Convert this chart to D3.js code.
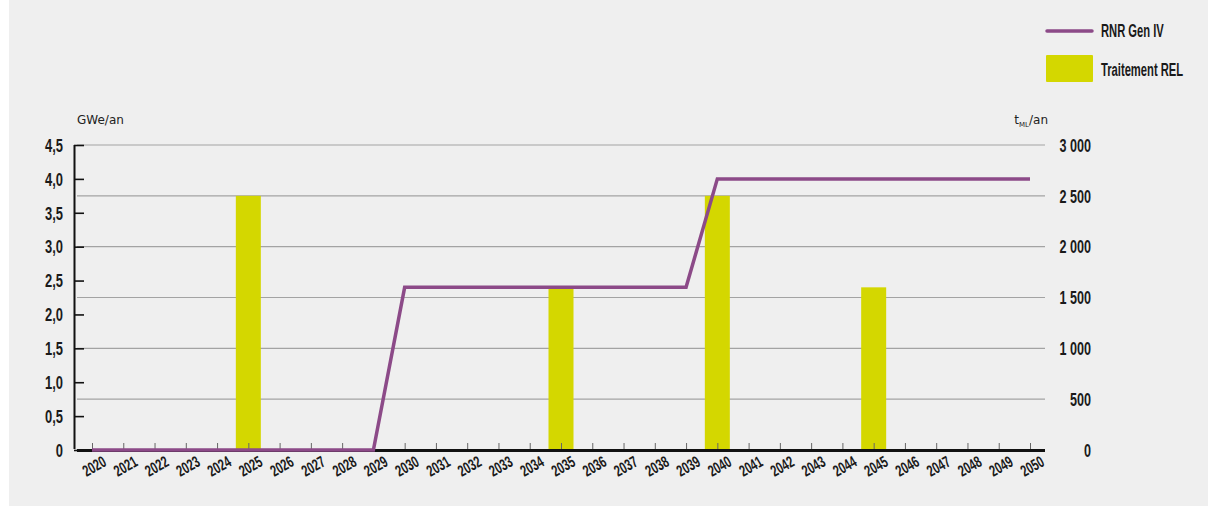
<!DOCTYPE html>
<html><head><meta charset="utf-8">
<script src="https://cdn.jsdelivr.net/npm/d3@7"></script>
<style>
html,body{margin:0;padding:0;background:#fff;}
svg{display:block;}
</style></head>
<body><svg id="c" width="1208" height="506"></svg>
<script>
const years = d3.range(2020, 2051);
const rnrGenIV = [0,0,0,0,0,0,0,0,0,0,2.4,2.4,2.4,2.4,2.4,2.4,2.4,2.4,2.4,2.4,4.0,4.0,4.0,4.0,4.0,4.0,4.0,4.0,4.0,4.0,4.0];
const relYears = [2025, 2035, 2040, 2045];
const relValues = [2500, 1600, 2500, 1600];
const leftTicks = [0,0.5,1,1.5,2,2.5,3,3.5,4,4.5];
const leftTickLabels = ["0","0,5","1,0","1,5","2,0","2,5","3,0","3,5","4,0","4,5"];
const rightTicks = [0,500,1000,1500,2000,2500,3000];
const rightTickLabels = ["0","500","1 000","1 500","2 000","2 500","3 000"];
const seriesNames = ["RNR Gen IV","Traitement REL"];
const colors = {line:"#8c4a88", bar:"#d4d700"};
const CF = "Liberation Sans, Arial, sans-serif";

const svg = d3.select("#c");
svg.append("rect").attr("x",9).attr("y",0).attr("width",1199).attr("height",506).attr("fill","#efefef");

const x = d3.scalePoint().domain(years).range([92,1030]);
const yL = d3.scaleLinear().domain([0,4.5]).range([450,145]);
const yR = d3.scaleLinear().domain([0,3000]).range([450,145]);

// gridlines
svg.append("g").selectAll("line").data(rightTicks.filter(d=>d>0)).join("line")
  .attr("x1",77).attr("x2",1045).attr("y1",d=>yR(d)).attr("y2",d=>yR(d))
  .attr("stroke","#a3a3a3").attr("stroke-width",1.2);

// bars
const bw = 25;
svg.append("g").selectAll("rect").data(relYears.map((y,i)=>({y,v:relValues[i]}))).join("rect")
  .attr("x",d=>x(d.y)-bw/2).attr("width",bw)
  .attr("y",d=>yR(d.v)).attr("height",d=>yR(0)-yR(d.v))
  .attr("fill",colors.bar);

// x axis
const xAxis = svg.append("g").attr("transform","translate(0,450)")
  .call(d3.axisBottom(x).tickSizeInner(-7).tickSizeOuter(0).tickPadding(10));
xAxis.select(".domain").remove();
xAxis.selectAll(".tick line").attr("stroke","#666").attr("stroke-width",1);
xAxis.append("line").attr("x1",77).attr("x2",1045).attr("y1",0.5).attr("y2",0.5)
  .attr("stroke","#111").attr("stroke-width",3);
xAxis.selectAll(".tick text")
  .attr("font-family",CF).attr("font-size",16).attr("font-weight","bold").attr("fill","#1a1a1a")
  .attr("text-anchor","end").attr("dy",0).attr("y",0).attr("x",0)
  .attr("transform","translate(15,15) rotate(-30) scale(0.68,1)");

// left axis
const lAxis = svg.append("g").attr("transform","translate(74,0)")
  .call(d3.axisLeft(yL).tickValues(leftTicks).tickFormat((d,i)=>leftTickLabels[i]).tickSizeInner(-10).tickSizeOuter(0).tickPadding(11));
lAxis.select(".domain").attr("d","M0.5,145V449").attr("stroke","#111").attr("stroke-width",2);
lAxis.selectAll(".tick line").attr("stroke","#111").attr("stroke-width",1.6);
lAxis.selectAll(".tick text").attr("font-family",CF).attr("font-size",17.5).attr("font-weight","bold").attr("fill","#1a1a1a")
  .attr("x",0).attr("dy","0.36em").attr("transform","translate(-11,0) scale(0.74,1)");

// right axis
const rAxis = svg.append("g").attr("transform","translate(1045,0)")
  .call(d3.axisRight(yR).tickValues(rightTicks).tickFormat((d,i)=>rightTickLabels[i]).tickSize(0).tickPadding(46));
rAxis.select(".domain").remove();
rAxis.selectAll(".tick text").attr("font-family",CF).attr("font-size",17.5).attr("font-weight","bold").attr("fill","#1a1a1a")
  .attr("text-anchor","end").attr("x",0).attr("dy","0.36em").attr("transform","translate(46,0) scale(0.72,1)");

// line
svg.append("path").datum(years.map((y,i)=>[y,rnrGenIV[i]]))
  .attr("d",d3.line().x(d=>x(d[0])).y(d=>yL(d[1])))
  .attr("fill","none").attr("stroke",colors.line).attr("stroke-width",3.5).attr("stroke-linejoin","miter");

// unit labels
svg.append("text").attr("x",77).attr("y",124).attr("font-family","DejaVu Sans, sans-serif").attr("font-size",12).attr("fill","#222").text("GWe/an");
const tu = svg.append("text").attr("x",1048).attr("y",124).attr("text-anchor","end").attr("font-family","DejaVu Sans, sans-serif").attr("font-size",12).attr("fill","#222");
tu.append("tspan").text("t");
tu.append("tspan").attr("font-size",7).attr("dy",3).attr("fill","#222").text("ML");
tu.append("tspan").attr("dy",-3).text("/an");

// legend
const lg = svg.append("g");
lg.append("line").attr("x1",1047).attr("x2",1092).attr("y1",31).attr("y2",31).attr("stroke",colors.line).attr("stroke-width",3.5).attr("stroke-linecap","round");
lg.append("rect").attr("x",1046).attr("y",55).attr("width",47).attr("height",27).attr("rx",1).attr("fill",colors.bar);
lg.selectAll("text.lt").data(seriesNames).join("text").attr("class","lt")
  .attr("transform",(d,i)=>`translate(1101,${i===0?37:76}) scale(0.59,1)`)
  .attr("font-family",CF).attr("font-size",19).attr("font-weight","bold").attr("fill","#1a1a1a")
  .text(d=>d);
</script></body></html>
